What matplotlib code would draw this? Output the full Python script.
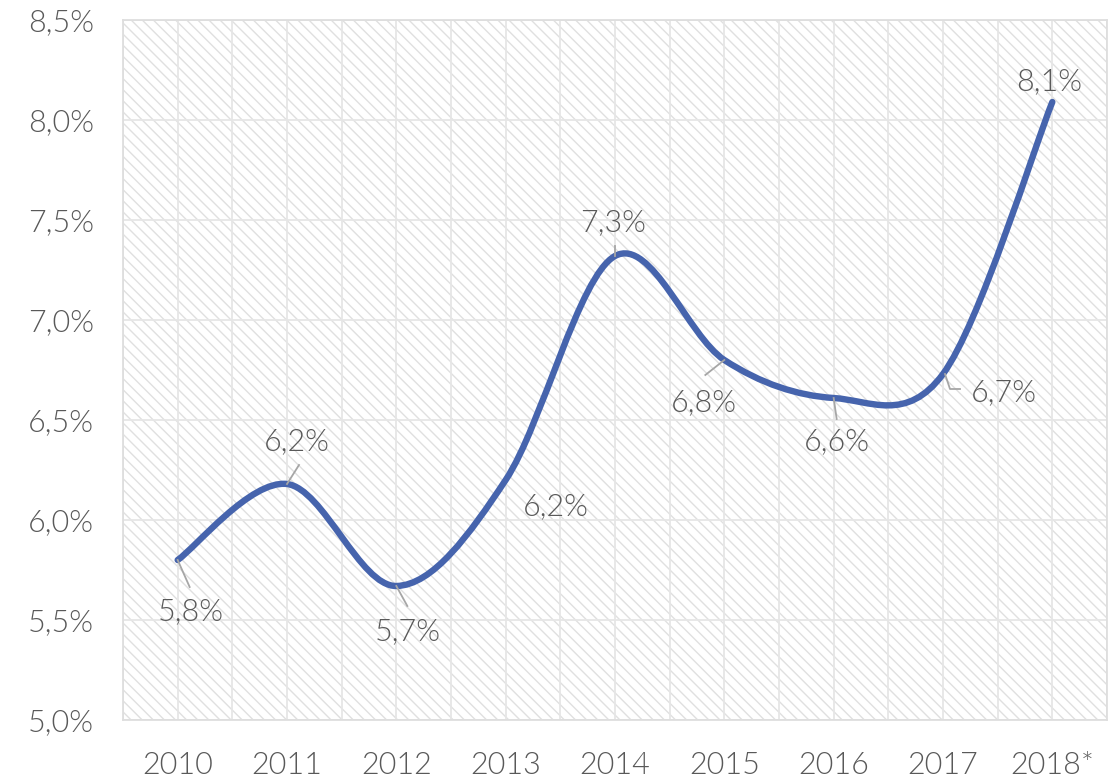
import matplotlib
matplotlib.use("Agg")
import matplotlib.pyplot as plt
from matplotlib.path import Path
from matplotlib.patches import PathPatch
import numpy as np

years = ["2010", "2011", "2012", "2013", "2014", "2015", "2016", "2017", "2018*"]
values = [5.80, 6.18, 5.67, 6.20, 7.32, 6.80, 6.61, 6.73, 8.09]
labels = ["5,8%", "6,2%", "5,7%", "6,2%", "7,3%", "6,8%", "6,6%", "6,7%", "8,1%"]
yticks = [5.0, 5.5, 6.0, 6.5, 7.0, 7.5, 8.0, 8.5]
ytick_labels = ["5,0%", "5,5%", "6,0%", "6,5%", "7,0%", "7,5%", "8,0%", "8,5%"]

# label offsets (pixels) and leader lines (pixels, relative to point)
label_offsets = [(13, -52), (10, 42), (11, -46), (50, -27), (-2, 33), (-20, -43), (3, -44), (61, -19), (-3, 20)]
leaders = [
    [(0, 0), (12, -27)],
    [(0, 0), (12, 19)],
    [(0, 0), (11, -20)],
    None,
    [(0, 0), (0, 10)],
    [(0, 0), (-19, -15)],
    [(0, 0), (3, -21)],
    [(2, 0), (7, -15), (17, -15)],
    None,
]

plt.rcParams['font.family'] = ['Lato', 'DejaVu Sans']
plt.rcParams['hatch.linewidth'] = 1.0
plt.rcParams['hatch.color'] = '#e0e0e0'
TXT = '#595959'
LINE = '#4664ad'
WEIGHT = 300
FS = 22

fig = plt.figure(figsize=(11.09, 7.80), dpi=100)
ax = fig.add_axes([123/1109, 60/780, 984/1109, 700/780])
n = len(years)
ax.set_xlim(-0.5, n - 0.5)
ax.set_ylim(5.0, 8.5)

ax.patch.set_facecolor('white')
ax.add_patch(plt.Rectangle((0, 0), 1, 1, transform=ax.transAxes, facecolor='none',
                           edgecolor='#e0e0e0', hatch='\\\\\\', lw=0, zorder=0))

# gridlines
for x in np.arange(-0.5, n, 0.5):
    ax.axvline(x, color='#e6e6e6', lw=1.3, zorder=1)
for y in yticks:
    ax.axhline(y, color='#e6e6e6', lw=1.3, zorder=1)
for s in ax.spines.values():
    s.set_color('#dedede')
    s.set_linewidth(1.3)

# smoothed line (Catmull-Rom bezier like Excel)
xs = np.arange(n, dtype=float)
ys = np.array(values)
P = np.column_stack([xs, ys])
verts = [tuple(P[0])]
codes = [Path.MOVETO]
for i in range(n - 1):
    p0 = P[i - 1] if i > 0 else P[i]
    p1 = P[i]
    p2 = P[i + 1]
    p3 = P[i + 2] if i + 2 < n else P[i + 1]
    c1 = p1 + (p2 - p0) / 6.0
    c2 = p2 - (p3 - p1) / 6.0
    verts += [tuple(c1), tuple(c2), tuple(p2)]
    codes += [Path.CURVE4] * 3
ax.add_patch(PathPatch(Path(verts, codes), facecolor='none', edgecolor=LINE, lw=4.6,
                       capstyle='round', joinstyle='round', zorder=3))

# labels and leaders
for i in range(n):
    ax.annotate(labels[i], xy=(xs[i], ys[i]), xytext=label_offsets[i], textcoords='offset pixels',
                ha='center', va='center', fontsize=FS, color=TXT, fontweight=WEIGHT, zorder=5)
    if leaders[i] is not None:
        px, py = ax.transData.transform((xs[i], ys[i]))
        pts = np.array([(px + dx, py + dy) for dx, dy in leaders[i]])
        ax.plot(pts[:, 0], pts[:, 1], color='#a6a6a6', lw=1.3, transform=None, zorder=4)

ax.set_xticks(xs)
ax.set_xticklabels(years, fontweight=WEIGHT)
ax.set_yticks(yticks)
ax.set_yticklabels(ytick_labels, fontweight=WEIGHT)
ax.tick_params(axis='both', length=0, labelsize=FS, colors=TXT)
ax.tick_params(axis='x', pad=22)
ax.tick_params(axis='y', pad=21)

fig.savefig('out.png', dpi=100)
